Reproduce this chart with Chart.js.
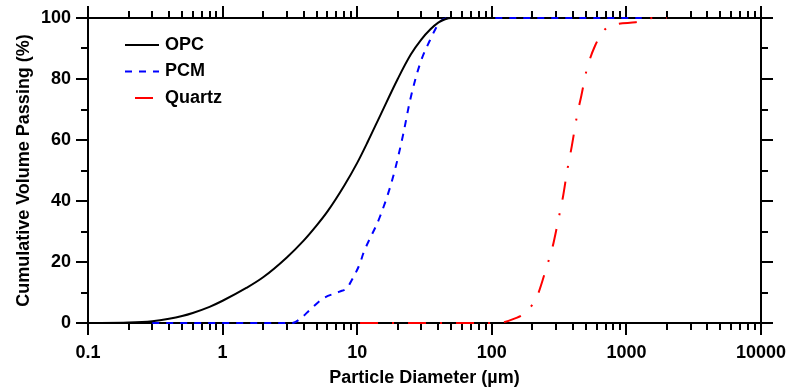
<!DOCTYPE html>
<html>
<head>
<meta charset="utf-8">
<script src="https://cdn.jsdelivr.net/npm/chart.js@4.4.0/dist/chart.umd.min.js"></script>
<style>
  html, body { margin: 0; padding: 0; background: #fff; }
</style>
</head>
<body>
<canvas id="myChart" width="791" height="390"></canvas>
<script>
// particle size distributions
const opcX = [0.1, 0.2, 0.3, 0.4, 0.5, 0.6, 0.8, 1, 1.5, 2, 3, 4, 5, 6, 8, 10, 12, 15, 20, 25, 30, 35, 40, 45, 50, 100];
const opcY = [0, 0.15, 0.6, 1.4, 2.3, 3.3, 5.3, 7.3, 11.5, 15, 21.5, 27, 32, 36.5, 45, 52.5, 59.5, 68.5, 80, 88, 93, 96.3, 98.5, 99.6, 100, 100];

const pcmX = [0.3, 1, 2, 3.3, 3.8, 4.5, 5.6, 7.4, 8.4, 9.1, 10.5, 11.1, 14.8, 18.5, 22, 24.7, 29.3, 34.8, 41.3, 48, 100, 500, 1300];
const pcmY = [0, 0, 0, 0, 1.5, 4.5, 8.1, 10.3, 11.5, 14, 19.6, 22.8, 35, 48, 62, 73, 85, 92.8, 98.8, 100, 100, 100, 100];

const quartzX = [10.5, 50, 108, 149, 181, 218, 256, 283, 312, 338, 364, 393, 428, 463, 507, 585, 694, 847, 1173, 1600, 2000];
const quartzY = [0, 0, 0, 1.5, 3.7, 9, 18.5, 25, 33.8, 41.4, 50.2, 58, 67.6, 74.6, 83, 90.9, 96.3, 98, 98.6, 100, 100];

const seriesNames = ['OPC', 'PCM', 'Quartz'];
const yTicks = [0, 20, 40, 60, 80, 100];

const FONT = "'Liberation Sans', Arial, sans-serif";
const pts = (xs, ys) => xs.map((x, i) => ({ x: x, y: ys[i] }));

// frame with outward ticks on all four sides (mirrored top/right)
const framePlugin = {
  id: 'frame',
  beforeDatasetsDraw(chart) {
    const { ctx, chartArea: a, scales: { x, y } } = chart;
    ctx.save();
    ctx.strokeStyle = '#000';
    ctx.lineWidth = 2;
    ctx.lineCap = 'butt';
    ctx.beginPath();
    ctx.rect(a.left, a.top, a.right - a.left, a.bottom - a.top);
    ctx.stroke();
    ctx.beginPath();
    for (let e = -1; e <= 4; e++) {
      for (let k = 1; k <= 9; k++) {
        const v = k * Math.pow(10, e);
        if (v > 10000 * 1.0001) continue;
        const px = Math.round(x.getPixelForValue(v));
        const len = k === 1 ? 12 : 7;
        ctx.moveTo(px, a.bottom); ctx.lineTo(px, a.bottom + len);
        ctx.moveTo(px, a.top); ctx.lineTo(px, a.top - len);
      }
    }
    for (let v = 0; v <= 100; v += 10) {
      const py = Math.round(y.getPixelForValue(v));
      const len = v % 20 === 0 ? 12 : 7;
      ctx.moveTo(a.left, py); ctx.lineTo(a.left - len, py);
      ctx.moveTo(a.right, py); ctx.lineTo(a.right + len, py);
    }
    ctx.stroke();
    ctx.restore();
  },
  afterDraw(chart) {
    const ctx = chart.ctx;
    ctx.save();
    ctx.font = 'bold 18px ' + FONT;
    ctx.textBaseline = 'middle';
    ctx.fillStyle = '#000';
    chart.data.datasets.forEach((ds, i) => {
      const yy = 45 + i * 26.5;
      ctx.strokeStyle = ds.borderColor;
      ctx.lineWidth = 2;
      ctx.setLineDash(ds.borderDash || []);
      ctx.lineDashOffset = i === 2 ? 38 : 0;
      ctx.beginPath();
      ctx.moveTo(125, yy); ctx.lineTo(159, yy);
      ctx.stroke();
      ctx.fillText(ds.label, 165, yy);
    });
    ctx.restore();
  }
};

const noPad = (s) => { s.paddingLeft = 0; s.paddingRight = 0; s.paddingTop = 0; s.paddingBottom = 0; };

new Chart(document.getElementById('myChart'), {
  type: 'line',
  data: {
    datasets: [
      { label: seriesNames[0], data: pts(opcX, opcY), borderColor: '#000000', borderWidth: 2 },
      { label: seriesNames[1], data: pts(pcmX, pcmY), borderColor: '#0000ff', borderWidth: 2, borderDash: [7, 7] },
      { label: seriesNames[2], data: pts(quartzX, quartzY), borderColor: '#ff0000', borderWidth: 2, borderDash: [18, 14, 2, 14] }
    ]
  },
  options: {
    responsive: false,
    animation: false,
    devicePixelRatio: 1,
    layout: { padding: { top: 18, right: 30, left: 0, bottom: 0 } },
    elements: {
      point: { radius: 0 },
      line: { cubicInterpolationMode: 'monotone', fill: false }
    },
    datasets: { line: { clip: 6 } },
    plugins: { legend: { display: false }, tooltip: { enabled: false } },
    scales: {
      x: {
        type: 'logarithmic',
        min: 0.1,
        max: 10000,
        border: { display: false },
        grid: { display: true, drawOnChartArea: false, drawTicks: false },
        ticks: {
          autoSkip: false,
          maxRotation: 0,
          padding: 19,
          color: '#000',
          font: { family: FONT, size: 18, weight: 'bold' },
          callback: (v) => {
            const l = Math.log10(v);
            return Math.abs(l - Math.round(l)) < 1e-6 ? String(Number(v.toPrecision(6))) : '';
          }
        },
        title: {
          display: true,
          text: 'Particle Diameter (µm)',
          color: '#000',
          font: { family: FONT, size: 18, weight: 'bold' },
          padding: { top: 0, bottom: 1 }
        },
        afterFit: (s) => { s.height = 67; noPad(s); }
      },
      y: {
        min: 0,
        max: 100,
        border: { display: false },
        grid: { display: true, drawOnChartArea: false, drawTicks: false },
        afterBuildTicks: (s) => { s.ticks = yTicks.map(v => ({ value: v })); },
        ticks: {
          padding: 17,
          color: '#000',
          font: { family: FONT, size: 18, weight: 'bold' }
        },
        title: {
          display: true,
          text: 'Cumulative Volume Passing (%)',
          color: '#000',
          font: { family: FONT, size: 18, weight: 'bold' },
          padding: { top: 13, bottom: 0 }
        },
        afterFit: (s) => { s.width = 88; noPad(s); }
      }
    }
  },
  plugins: [framePlugin]
});
</script>
</body>
</html>
